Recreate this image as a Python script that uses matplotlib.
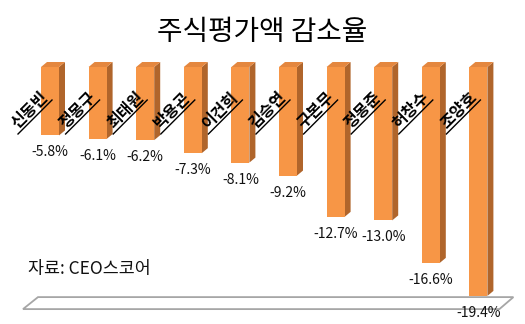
import matplotlib
matplotlib.use("Agg")
import matplotlib.pyplot as plt
from matplotlib.patches import Polygon
from matplotlib.lines import Line2D

plt.rcParams["font.family"] = ["Noto Sans CJK KR", "DejaVu Sans"]

# Decline in stock valuation by chairman (%)
names = ["신동빈", "정몽구", "최태원", "박용곤", "이건희",
         "김승연", "구본무", "정몽준", "허창수", "조양호"]
changes = [-5.8, -6.1, -6.2, -7.3, -8.1, -9.2, -12.7, -13.0, -16.6, -19.4]
title = "주식평가액 감소율"
source = "자료: CEO스코어"
axis_floor = -19.5

W, H = 525, 324
fig = plt.figure(figsize=(W / 100, H / 100), dpi=100)
ax = fig.add_axes([0, 0, 1, 1])
ax.axis("off")

# pixel scale of the plot: bar pitch and pixels per percent
step = 47.6
x_first = 50
y_per = 11.8
y_zero = 67
ax.set_xlim(-x_first / step, (W - x_first) / step)
ax.set_ylim(-(H - y_zero) / y_per, y_zero / y_per)


def dx(p):
    return p / step


def dy(p):
    return p / y_per


front = "#F79646"
side = "#B0652B"
top = "#E4873F"
depth_x, depth_y = dx(6), dy(5)
w = dx(18)
n = len(names)

# floor of the 3-D plot
floor = Polygon(
    [(-dx(27), axis_floor - dy(12)),
     (-dx(12), axis_floor),
     (n - 1 + dx(35), axis_floor),
     (n - 1 + dx(21), axis_floor - dy(12))],
    closed=True, facecolor="white", edgecolor="#A6A6A6", lw=1.3, zorder=1)
ax.add_patch(floor)

xs = list(range(n))
ax.bar(xs, changes, width=w, color=front, edgecolor="none", zorder=3)

for i, v in zip(xs, changes):
    r = i + w / 2
    l = i - w / 2
    ax.add_patch(Polygon([(r, 0), (r + depth_x, depth_y),
                          (r + depth_x, v + depth_y), (r, v)],
                         closed=True, facecolor=side, edgecolor="none", zorder=2))
    ax.add_patch(Polygon([(l, 0), (r, 0), (r + depth_x, depth_y),
                          (l + depth_x, depth_y)],
                         closed=True, facecolor=top, edgecolor="none", zorder=2))
    ax.text(i, v - dy(17), f"{v:.1f}%", ha="center", va="center",
            fontsize=10, color="#111111", zorder=5)

# rotated name labels with a slanted underline
for i, name in zip(xs, names):
    cx, cy = i - dx(20), -dy(43)
    ax.text(cx, cy, name, rotation=45, rotation_mode="anchor",
            ha="center", va="center", fontsize=11.5, fontweight="bold",
            color="black", zorder=6)
    ax.add_line(Line2D([cx - dx(12), cx + dx(22)], [cy - dy(24), cy + dy(10)],
                       color="black", lw=1.0, zorder=6))

fig.text(0.5, 1 - 32 / H, title, ha="center", va="center", fontsize=20,
         color="black")
fig.text(28 / W, 1 - 269 / H, source, ha="left", va="center", fontsize=12.5,
         color="#111111")

fig.savefig("out.png", dpi=100)
